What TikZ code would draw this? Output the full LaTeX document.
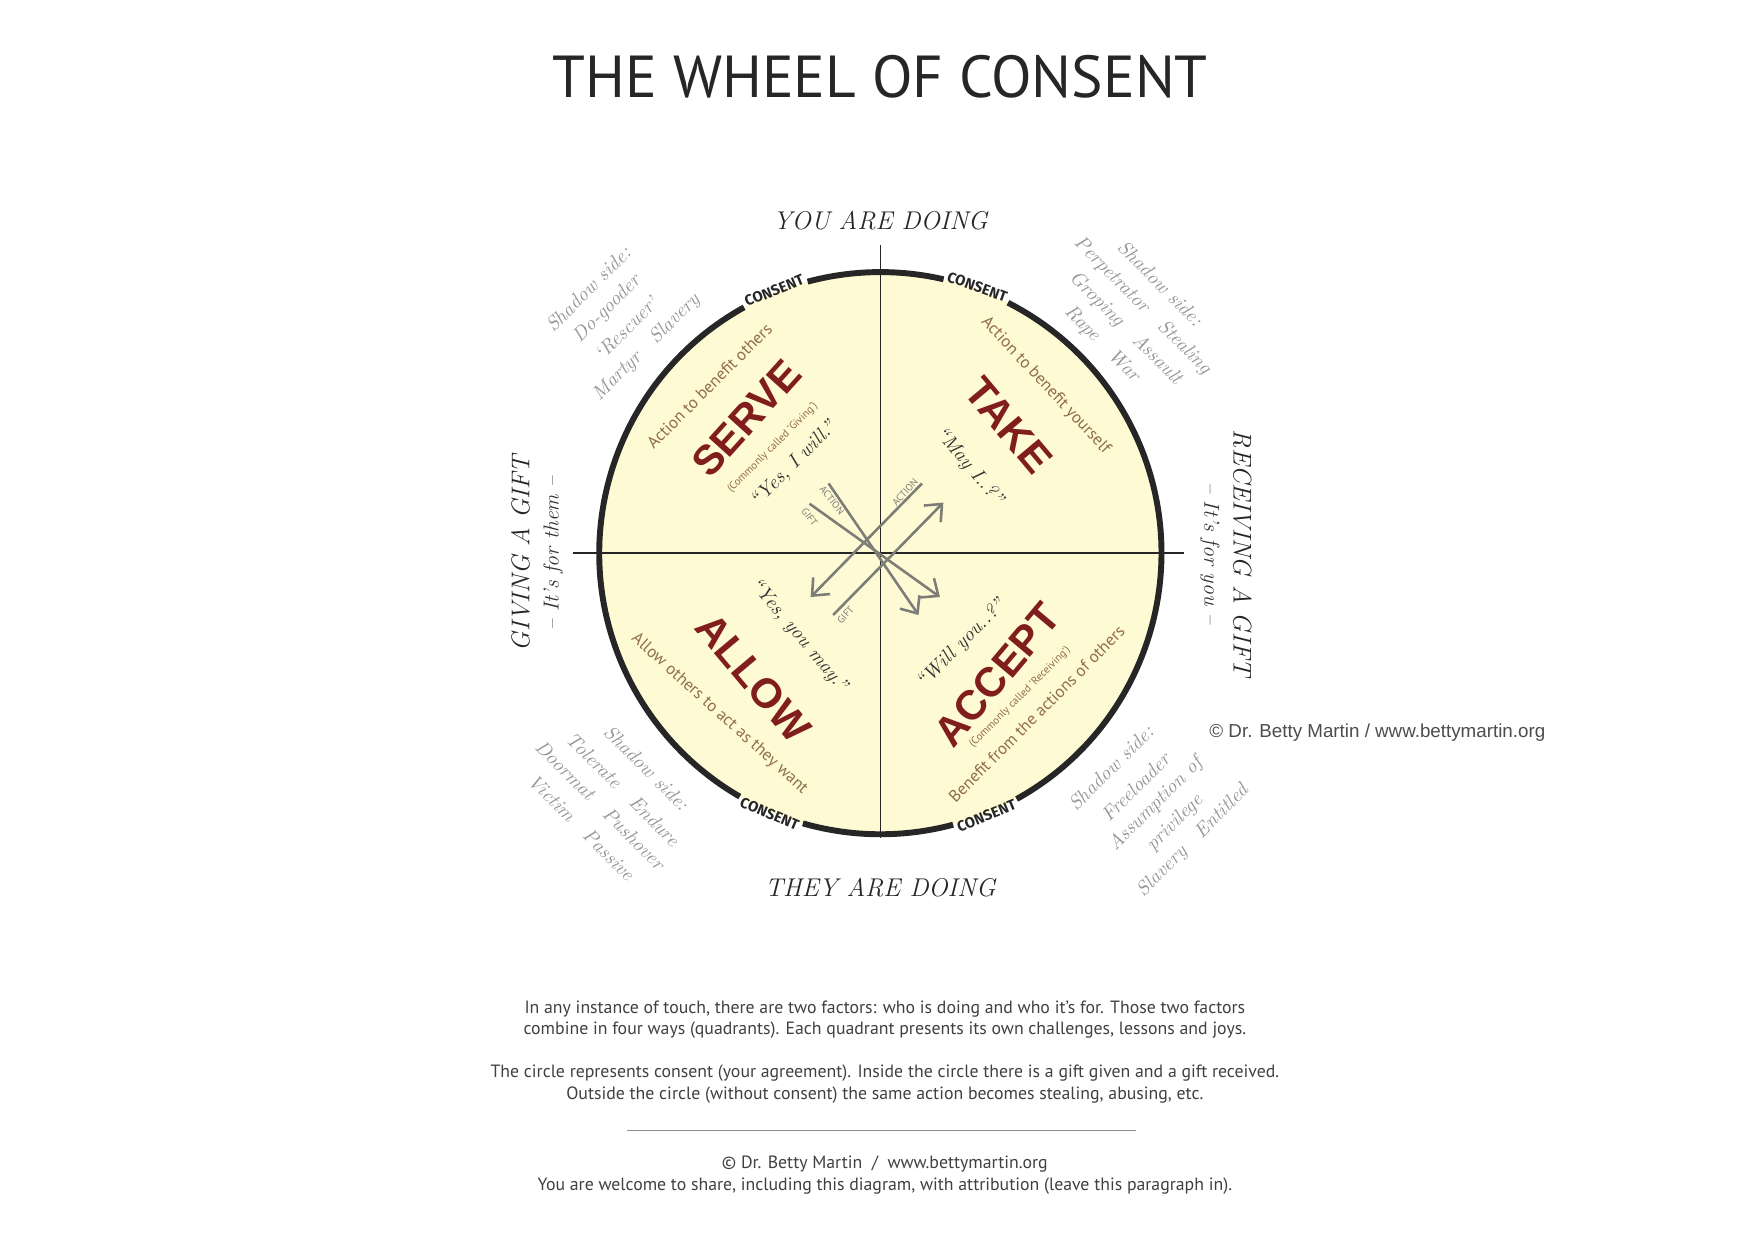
\documentclass[tikz,border=0pt]{standalone}
\usepackage{fontspec}
\usepackage{tikz}
\usetikzlibrary{arrows.meta}
\newfontfamily\dinfont{PT Sans}
\newfontfamily\boldsans{Liberation Sans}
\newfontfamily\consentfont{Fira Sans}
\definecolor{wheelfill}{RGB}{254,250,212}
\definecolor{quadred}{RGB}{128,30,30}
\definecolor{notebrown}{RGB}{145,110,75}
\definecolor{shadowgray}{RGB}{150,150,150}
\definecolor{arrowgray}{RGB}{125,125,120}
\tikzset{
  quadname/.style={text=quadred, font=\boldsans\bfseries\fontsize{21}{21}\selectfont},
  quadnote/.style={text=notebrown, font=\dinfont\fontsize{8.5}{8.5}\selectfont},
  quadsmall/.style={text=notebrown, font=\dinfont\fontsize{5.5}{5.5}\selectfont},
  quote/.style={text=black!80, font=\itshape\fontsize{10}{10}\selectfont},
  shadow/.style={text=shadowgray, font=\itshape\fontsize{10}{10}\selectfont},
  consent/.style={font=\consentfont\bfseries\fontsize{7.5}{7.5}\selectfont, text=black!85},
  doing/.style={font=\itshape\fontsize{13}{13}\selectfont, text=black!85},
  tiny/.style={text=arrowgray, font=\dinfont\fontsize{5}{5}\selectfont},
  flow/.style={arrowgray, line width=1.3pt, -{Straight Barb[length=7pt,width=12pt]}},
  body/.style={text=black!75, font=\dinfont\fontsize{9}{11}\selectfont, align=center}
}
\begin{document}
\begin{tikzpicture}[x=0.02cm, y=0.02cm]
    \useasboundingbox (-783,-610) rectangle (777,492);

    % Title
    \node[font=\dinfont\fontsize{30}{30}\selectfont, text=black!85] (title) at (0,424) {THE WHEEL OF CONSENT};

    % Wheel
    \fill[wheelfill] (0,0) circle (250);
    \draw[line width=3pt, black!85] (77:250) arc (77:105:250);
    \draw[line width=3pt, black!85] (119:250) arc (119:240:250);
    \draw[line width=3pt, black!85] (254:250) arc (254:285:250);
    \draw[line width=3pt, black!85] (299:250) arc (299:423:250);

    \node[consent, rotate=22] (c1) at (112:252) {CONSENT};
    \node[consent, rotate=-20] (c2) at (70:252) {CONSENT};
    \node[consent, rotate=-23] (c3) at (247:252) {CONSENT};
    \node[consent, rotate=22] (c4) at (292:252) {CONSENT};

    % Axes
    \coordinate (west) at (-273,0);
    \coordinate (east) at (270,0);
    \coordinate (north) at (0,274);
    \coordinate (south) at (0,-253);
    \draw[thick, black!85] (west) -- (east);
    \draw[thick, black!85] (north) -- (south);

    % Axis labels
    \node[doing] (you) at (0,296) {YOU ARE DOING};
    \node[doing] (they) at (0,-297) {THEY ARE DOING};
    \node[doing, rotate=90] (giving) at (-320,0) {GIVING A GIFT};
    \node[quote, rotate=90, font=\itshape\fontsize{11}{11}\selectfont] (forthem) at (-291,0) {-- It’s for them --};
    \node[doing, rotate=-90] (receiving) at (322,0) {RECEIVING A GIFT};
    \node[quote, rotate=-90, font=\itshape\fontsize{11}{11}\selectfont] (foryou) at (293,0) {-- It’s for you --};

    % Serve
    \node[quadname, rotate=48] (serve) at (-119,120) {SERVE};
    \node[quadsmall, rotate=45] (giving note) at (-96,94) {(Commonly called ‘Giving’)};
    \node[quadnote, rotate=45] (serve note) at (-152,149) {Action to benefit others};
    \node[quote, rotate=45] (serve quote) at (-77,79) {“Yes, I will.”};

    % Take
    \node[quadname, rotate=-50] (take) at (114,114) {TAKE};
    \node[quadnote, rotate=-47] (take note) at (147,149) {Action to benefit yourself};
    \node[quote, rotate=-50] (take quote) at (79,77) {“May I..?”};

    % Allow
    \node[quadname, rotate=-50] (allow) at (-113,-111) {ALLOW};
    \node[quadnote, rotate=-42] (allow note) at (-143,-143) {Allow others to act as they want};
    \node[quote, rotate=-50] (allow quote) at (-73,-73) {“Yes, you may.”};

    % Accept
    \node[quadname, rotate=50] (accept) at (104,-108) {ACCEPT};
    \node[quadsmall, rotate=45] (receiving note) at (124,-128) {(Commonly called ‘Receiving’)};
    \node[quadnote, rotate=45] (accept note) at (139,-143) {Benefit from the actions of others};
    \node[quote, rotate=45] (accept quote) at (72,-81) {“Will you..?”};

    % Crossing arrows
    \coordinate (a1) at (-46,62);  \coordinate (a2) at (34,-55);
    \coordinate (b1) at (-63,44);  \coordinate (b2) at (53,-39);
    \coordinate (d1) at (37,62);   \coordinate (d2) at (-62,-39);
    \coordinate (e1) at (-42,-55); \coordinate (e2) at (56,45);
    \draw[flow] (a1) -- (a2);
    \draw[flow] (b1) -- (b2);
    \draw[flow] (d1) -- (d2);
    \draw[flow] (e1) -- (e2);
    \node[tiny, rotate=-52] (act1) at (-43,47) {ACTION};
    \node[tiny, rotate=-52] (gift1) at (-63,32) {GIFT};
    \node[tiny, rotate=48] (act2) at (22,54) {ACTION};
    \node[tiny, rotate=48] (gift2) at (-31,-55) {GIFT};

    % Shadow sides
    \node[shadow, rotate=45] (s1a) at (-260,235) {Shadow side:};
    \node[shadow, rotate=45] (s1b) at (-243,217) {Do-gooder};
    \node[shadow, rotate=45] (s1c) at (-226,200) {‘Rescuer’};
    \node[shadow, rotate=45] (s1d) at (-208,183) {Martyr\quad Slavery};

    \node[shadow, rotate=-45] (s2a) at (249,240) {Shadow side:};
    \node[shadow, rotate=-45] (s2b) at (233,220) {Perpetrator\quad Stealing};
    \node[shadow, rotate=-45] (s2c) at (218,200) {Groping\quad Assault};
    \node[shadow, rotate=-45] (s2d) at (197,186) {Rape\quad War};

    \node[shadow, rotate=-45] (s3a) at (-208,-191) {Shadow side:};
    \node[shadow, rotate=-45] (s3b) at (-229,-210) {Tolerate\quad Endure};
    \node[shadow, rotate=-45] (s3c) at (-249,-224) {Doormat\quad Pushover};
    \node[shadow, rotate=-45] (s3d) at (-266,-244) {Victim\quad Passive};

    \node[shadow, rotate=45] (s4a) at (205,-191) {Shadow side:};
    \node[shadow, rotate=45] (s4b) at (227,-208) {Freeloader};
    \node[shadow, rotate=45] (s4c) at (245,-223) {Assumption of};
    \node[shadow, rotate=45] (s4d) at (262,-240) {privilege};
    \node[shadow, rotate=45] (s4e) at (278,-256) {Slavery\quad Entitled};

    \node[text=black!70, font=\boldsans\fontsize{9.5}{9.5}\selectfont] (credit) at (442,-160)
      {© Dr. Betty Martin / www.bettymartin.org};

    % Explanation
    \node[body] (para1) at (4,-415) {In any instance of touch, there are two factors: who is doing and who it’s for. Those two factors\\combine in four ways (quadrants). Each quadrant presents its own challenges, lessons and joys.};
    \node[body] (para2) at (4,-472) {The circle represents consent (your agreement). Inside the circle there is a gift given and a gift received.\\Outside the circle (without consent) the same action becomes stealing, abusing, etc.};
    \coordinate (rule l) at (-225,-513);
    \coordinate (rule r) at (227,-513);
    \draw[black!45] (rule l) -- (rule r);
    \node[body] (para3) at (4,-553) {© Dr. Betty Martin \ / \ www.bettymartin.org\\You are welcome to share, including this diagram, with attribution (leave this paragraph in).};
\end{tikzpicture}
\end{document}
